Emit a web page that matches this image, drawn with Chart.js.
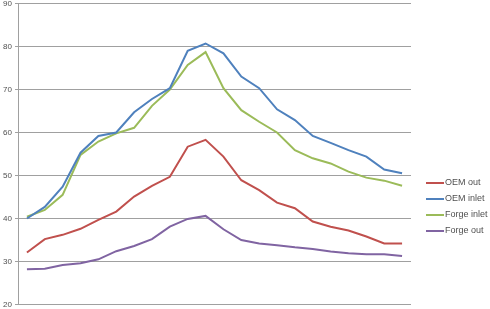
<!DOCTYPE html>
<html>
<head>
<meta charset="utf-8">
<script src="https://cdn.jsdelivr.net/npm/chart.js@4/dist/chart.umd.min.js"></script>
<style>
  html, body { margin: 0; padding: 0; background: #fff; }
  #wrap { width: 490px; height: 309px; }
</style>
</head>
<body>
<div id="wrap"><canvas id="tempChart" width="490" height="309"></canvas></div>
<script>
const categories = ["1","2","3","4","5","6","7","8","9","10","11","12","13","14","15","16","17","18","19","20","21","22"];
const oemOut = [32.1, 35.2, 36.2, 37.6, 39.7, 41.6, 45.1, 47.6, 49.7, 56.7, 58.3, 54.4, 48.9, 46.6, 43.7, 42.4, 39.3, 38.1, 37.2, 35.8, 34.2, 34.2];
const oemInlet = [40.0, 42.7, 47.4, 55.3, 59.2, 60.0, 64.7, 67.8, 70.3, 79.0, 80.7, 78.4, 73.0, 70.3, 65.4, 62.9, 59.2, 57.6, 55.9, 54.4, 51.4, 50.5];
const forgeInlet = [40.4, 42.0, 45.5, 54.8, 57.9, 59.8, 61.1, 66.2, 70.0, 75.7, 78.7, 70.3, 65.2, 62.5, 60.0, 55.9, 54.0, 52.8, 50.9, 49.5, 48.8, 47.6];
const forgeOut = [28.2, 28.3, 29.2, 29.6, 30.5, 32.4, 33.6, 35.2, 38.1, 39.9, 40.6, 37.5, 35.0, 34.2, 33.8, 33.3, 32.9, 32.3, 31.9, 31.7, 31.7, 31.3];
const seriesNames = ["OEM out", "OEM inlet", "Forge inlet", "Forge out"];
const seriesColors = ["#C0504D", "#4F81BD", "#9BBB59", "#8064A2"];

// legend drawn to the right, like the Excel one
const sideLegend = {
  id: "sideLegend",
  afterDraw(chart) {
    const ctx = chart.ctx;
    ctx.save();
    ctx.font = "9px 'Liberation Sans', Arial, sans-serif";
    ctx.textBaseline = "middle";
    chart.data.datasets.forEach(function (ds, i) {
      const y = 183 + i * 16;
      ctx.strokeStyle = ds.borderColor;
      ctx.lineWidth = 2;
      ctx.beginPath();
      ctx.moveTo(426, y);
      ctx.lineTo(444, y);
      ctx.stroke();
      ctx.fillStyle = "#505050";
      ctx.fillText(ds.label, 445, y);
    });
    ctx.restore();
  },
};

const seriesData = [oemOut, oemInlet, forgeInlet, forgeOut];

new Chart(document.getElementById("tempChart").getContext("2d"), {
  type: "line",
  data: {
    labels: categories,
    datasets: seriesData.map(function (vals, i) {
      return {
        label: seriesNames[i],
        data: vals,
        borderColor: seriesColors[i],
        backgroundColor: seriesColors[i],
        borderWidth: 2,
        pointRadius: 0,
        tension: 0,
        fill: false,
      };
    }),
  },
  options: {
    responsive: false,
    animation: false,
    layout: { padding: { left: 0, right: 79, top: 0, bottom: 0 } },
    plugins: {
      legend: { display: false },
      tooltip: { enabled: false },
    },
    scales: {
      x: {
        display: false,
        offset: true,
      },
      y: {
        min: 20,
        max: 90,
        afterFit: function (scale) {
          scale.width = 18;
          scale.paddingTop = 3.5;
          scale.paddingBottom = 4.5;
        },
        ticks: {
          stepSize: 10,
          padding: 3,
          color: "#505050",
          font: { family: "'Liberation Sans', Arial, sans-serif", size: 8, lineHeight: 0.8 },
        },
        grid: {
          color: "#a0a0a0",
          lineWidth: 1,
          tickLength: 3,
        },
        border: { color: "#a0a0a0" },
      },
    },
  },
  plugins: [sideLegend],
});
</script>
</body>
</html>
